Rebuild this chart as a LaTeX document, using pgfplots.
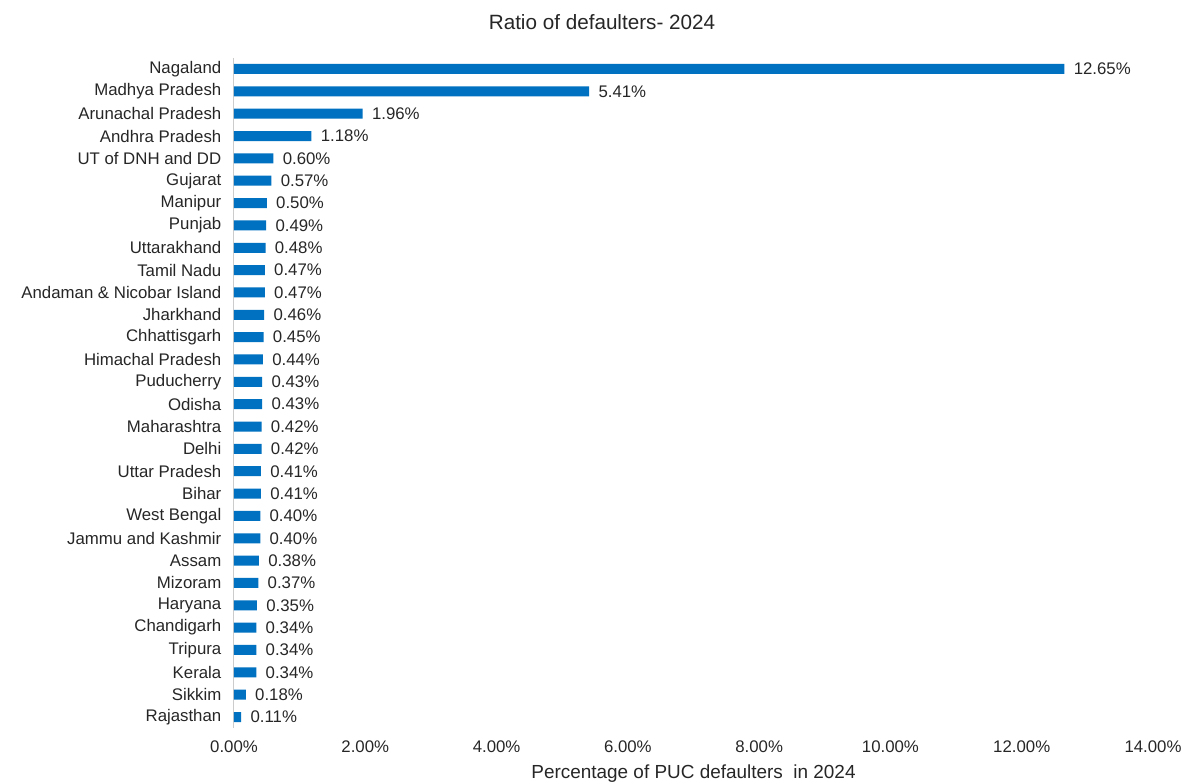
\documentclass[border=0pt]{standalone}
\usepackage{pgfplots}
\pgfplotsset{compat=1.18}
\usepackage{fontspec}
\setmainfont{Liberation Sans}
\definecolor{barblue}{RGB}{0,112,192}
\definecolor{txt}{RGB}{38,38,38}
\begin{document}
\begin{tikzpicture}[x=0.75pt,y=0.75pt]
\useasboundingbox (0,0) rectangle (1182,783);
\node[font=\fontsize{15.5}{18}\selectfont, text=txt] at (602,761) {Ratio of defaulters- 2024};
\begin{axis}[
  at={(175.5pt,41.1pt)}, anchor=south west,
  scale only axis, width=689.25pt, height=502.8pt,
  xbar, bar width=7.5pt,
  xmin=0, xmax=14, ymin=-0.5, ymax=29.5, y dir=reverse,
  xtick={0,2,...,14},
  ytick={0,...,29},
  yticklabels={Nagaland,Madhya Pradesh,Arunachal Pradesh,Andhra Pradesh,UT of DNH and DD,Gujarat,Manipur,Punjab,Uttarakhand,Tamil Nadu,Andaman \& Nicobar Island,Jharkhand,Chhattisgarh,Himachal Pradesh,Puducherry,Odisha,Maharashtra,Delhi,Uttar Pradesh,Bihar,West Bengal,Jammu and Kashmir,Assam,Mizoram,Haryana,Chandigarh,Tripura,Kerala,Sikkim,Rajasthan},
  major tick length=0,
  axis x line*=bottom, axis y line*=left,
  x axis line style={draw=none},
  y axis line style={draw=black!20, line width=0.75pt},
  /pgf/number format/assume math mode=true,
  xticklabel={\pgfmathprintnumber[fixed,fixed zerofill,precision=2]{\tick}\%},
  ticklabel style={font=\fontsize{12.6}{14}\selectfont, text=txt},
  xticklabel style={yshift=-6pt},
  yticklabel style={xshift=-6pt},
  xlabel={Percentage of PUC defaulters\ \ in 2024},
  xlabel style={font=\fontsize{14.2}{16}\selectfont, text=txt, yshift=-2pt},
  point meta=x,
  nodes near coords={\pgfmathprintnumber[fixed,fixed zerofill,precision=2]{\pgfplotspointmeta}\%},
  nodes near coords style={font=\fontsize{12.6}{14}\selectfont, text=txt, anchor=west, xshift=3.5pt},
  clip=false,
]
\addplot[fill=barblue, draw=none] coordinates {
(12.65,0) (5.41,1) (1.96,2) (1.18,3) (0.60,4) (0.57,5) (0.50,6) (0.49,7) (0.48,8) (0.47,9)
(0.47,10) (0.46,11) (0.45,12) (0.44,13) (0.43,14) (0.43,15) (0.42,16) (0.42,17) (0.41,18) (0.41,19)
(0.40,20) (0.40,21) (0.38,22) (0.37,23) (0.35,24) (0.34,25) (0.34,26) (0.34,27) (0.18,28) (0.11,29)
};
\end{axis}
\end{tikzpicture}
\end{document}
